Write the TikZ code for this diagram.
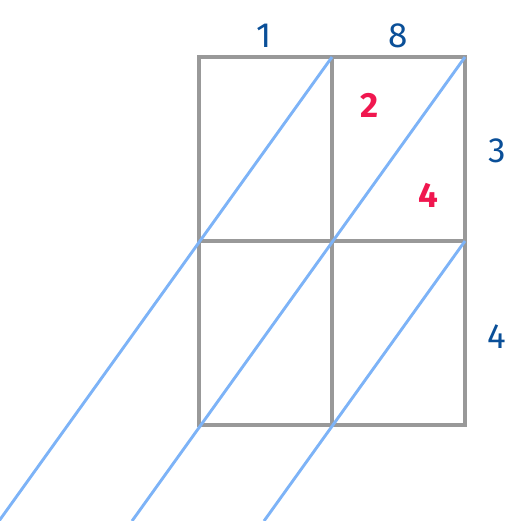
\documentclass[tikz,border=0pt]{standalone}
\usepackage{fontspec}
\setmainfont{Fira Sans}
\usepackage{tikz}

\definecolor{gridgray}{HTML}{999999}
\definecolor{diagblue}{HTML}{7DB3F7}
\definecolor{factorblue}{HTML}{0A4F98}
\definecolor{digitred}{HTML}{F0174F}

\begin{document}
\begin{tikzpicture}[x=1pt, y=-1pt,
    factor/.style={text=factorblue, font=\fontsize{35}{35}\selectfont},
    digit/.style={text=digitred, font=\fontsize{35}{35}\selectfont\bfseries}]
      \useasboundingbox (0,0) rectangle (521,520);
      % lattice cells
      \draw[gridgray, line width=3.3pt] (199,57) rectangle (465,425);
      \draw[gridgray, line width=3.3pt] (332,57) -- (332,425);
      \draw[gridgray, line width=3.3pt] (199,241) -- (465,241);
      % diagonals
      \draw[diagblue, line width=2.9pt] (332,57) -- (-1,521);
      \draw[diagblue, line width=2.9pt] (465,57) -- (132,521);
      \draw[diagblue, line width=2.9pt] (465,241) -- (264,521);
      % factors and partial products
      \node[factor] (top1) at (264,36) {1};
      \node[factor] (top8) at (398,36) {8};
      \node[factor] (side3) at (497,151) {3};
      \node[factor] (side4) at (497,337) {4};
      \node[digit] (tens) at (370,105) {2};
      \node[digit] (ones) at (428,195) {4};
    \end{tikzpicture}
\end{document}
